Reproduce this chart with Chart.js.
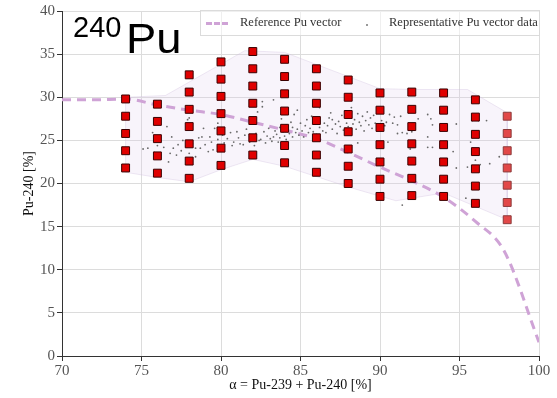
<!DOCTYPE html>
<html>
<head>
<meta charset="utf-8">
<script src="https://cdn.jsdelivr.net/npm/chart.js@4/dist/chart.umd.min.js"></script>
<style>
  html, body { margin: 0; padding: 0; background: #fff; }
  #wrap { position: relative; width: 557px; height: 398px; }
  #iso { position: absolute; left: 0; top: 0; font-family: 'Liberation Sans', Arial, sans-serif; color: #000; }
  #iso .mass { position: absolute; left: 73px; top: 13px; font-size: 29px; line-height: 1; }
  #iso .el { position: absolute; left: 126px; top: 18px; font-size: 42px; line-height: 1; transform: scaleX(1.08); transform-origin: left top; }
  #legend {
    position: absolute; left: 200px; top: 10px; width: 338px; height: 24px;
    border: 1px solid rgba(215, 215, 215, 0.9); background: rgba(255, 255, 255, 0.55);
    font-family: 'Liberation Serif', 'Times New Roman', serif; font-size: 12.5px; color: #333;
    white-space: nowrap;
  }
  #legend .dash { position: absolute; left: 5px; top: 11px; width: 22px; border-top: 3px dashed #cfa3d6; }
  #legend .t1 { position: absolute; left: 39px; top: 4px; }
  #legend .dot { position: absolute; left: 165px; top: 13px; width: 2px; height: 2px; background: #777; border-radius: 1px; }
  #legend .t2 { position: absolute; left: 188px; top: 4px; }
</style>
</head>
<body>
<div id="wrap">
  <canvas id="chart" width="557" height="398"></canvas>
  <div id="iso"><span class="mass">240</span><span class="el">Pu</span></div>
  <div id="legend">
    <span class="dash"></span><span class="t1">Reference Pu vector</span>
    <span class="dot"></span><span class="t2">Representative Pu vector data</span>
  </div>
</div>
<script>
// reference Pu vector curve
const refX = [70, 72, 74, 76, 78, 80, 82, 84, 86, 88, 90, 92, 94, 96, 97.8, 100];
const refY = [29.7, 29.7, 29.8, 29.1, 28.5, 28.0, 27.1, 26.2, 25.2, 23.6, 21.9, 20.3, 18.4, 15.6, 12.2, 1.6];

// selected points (red squares), one column per alpha value
const colX = [74, 76, 78, 80, 82, 84, 86, 88, 90, 92, 94, 96, 98];
const colY = [
  [29.8, 27.8, 25.8, 23.8, 21.8],
  [29.2, 27.2, 25.2, 23.2, 21.2],
  [32.6, 30.6, 28.6, 26.6, 24.6, 22.6, 20.6],
  [34.1, 32.1, 30.1, 28.1, 26.1, 24.1, 22.1],
  [35.3, 33.3, 31.3, 29.3, 27.3, 25.3, 23.3],
  [34.4, 32.4, 30.4, 28.4, 26.4, 24.4, 22.4],
  [33.3, 31.3, 29.3, 27.3, 25.3, 23.3, 21.3],
  [32.0, 30.0, 28.0, 26.0, 24.0, 22.0, 20.0],
  [30.5, 28.5, 26.5, 24.5, 22.5, 20.5, 18.5],
  [30.6, 28.6, 26.6, 24.6, 22.6, 20.6, 18.6],
  [30.5, 28.5, 26.5, 24.5, 22.5, 20.5, 18.5],
  [29.7, 27.7, 25.7, 23.7, 21.7, 19.7, 17.7],
  [27.8, 25.8, 23.8, 21.8, 19.8, 17.8, 15.8],
];

// shaded envelope around the sampled region
const envX = [74, 76.5, 81.5, 84, 90, 92, 95.5, 98, 98, 94, 91, 88, 84, 82, 80, 78, 76, 74, 74];
const envY = [30.0, 30.2, 35.4, 35.2, 31.0, 30.9, 30.9, 28.2, 15.8, 18.9, 18.0, 19.6, 22.0, 22.8, 21.6, 20.2, 20.7, 21.3, 30.0];

// representative Pu vector data (small dots)
const repData = [
  [75.1, 24.0], [75.4, 24.1], [75.7, 25.9], [75.8, 23.6], [76.0, 24.4], [76.2, 23.3], [76.4, 24.2], [76.6, 26.6],
  [76.7, 22.5], [76.8, 23.5], [76.9, 25.4], [77.0, 24.1], [77.2, 23.3], [77.3, 24.5], [77.5, 23.8], [77.6, 25.0],
  [77.8, 24.3], [77.9, 27.4], [78.0, 23.5], [78.0, 27.6], [78.2, 24.6], [78.4, 24.1], [78.4, 23.1], [78.6, 25.3],
  [78.7, 24.1], [78.8, 25.4], [78.9, 26.4], [79.0, 24.5], [79.2, 23.7], [79.3, 25.4], [79.4, 24.8], [79.5, 23.9],
  [79.6, 26.4], [79.8, 25.1], [79.8, 27.0], [79.9, 24.3], [80.1, 25.6], [80.2, 24.7], [80.4, 25.2], [80.6, 25.9],
  [80.7, 24.4], [80.8, 24.8], [81.0, 26.0], [81.1, 25.3],
  [81.2, 24.6], [81.4, 24.5], [81.5, 25.6], [81.6, 26.3], [81.8, 24.8], [81.9, 25.2], [82.0, 27.2], [82.1, 24.4],
  [82.2, 25.8], [82.3, 28.3], [82.4, 25.0], [82.5, 25.1], [82.6, 28.9], [82.6, 29.5], [82.7, 26.0], [82.8, 24.7],
  [82.9, 25.5], [83.0, 26.4], [83.1, 25.2], [83.2, 24.9], [83.3, 29.7], [83.3, 25.4], [83.4, 26.1], [83.5, 25.7],
  [83.6, 24.8], [83.7, 26.5], [83.7, 25.3], [83.8, 27.5], [83.9, 26.0], [84.0, 25.5], [84.1, 26.8], [84.1, 25.1],
  [84.2, 26.2], [84.3, 25.8], [84.4, 27.1], [84.5, 25.4], [84.5, 26.5], [84.6, 28.0], [84.7, 25.9], [84.8, 28.5],
  [84.8, 26.3], [84.9, 25.6], [85.0, 27.0], [85.1, 26.1], [85.2, 25.4], [85.3, 26.7], [85.4, 27.4], [85.5, 25.9],
  [85.6, 26.4], [85.7, 27.8], [85.8, 26.0], [85.9, 26.9], [86.0, 25.7], [86.1, 27.3], [86.2, 28.8], [86.2, 26.5],
  [86.4, 26.1], [86.5, 27.0], [86.6, 25.9], [86.7, 26.7], [86.8, 27.6], [86.9, 28.2], [87.0, 27.4], [87.0, 26.3],
  [87.2, 26.9], [87.3, 25.8], [87.4, 27.2], [87.5, 26.6],
  [87.6, 27.9], [87.7, 26.2], [87.8, 28.4], [87.9, 27.0], [88.0, 26.6], [88.1, 27.7], [88.2, 28.8], [88.3, 26.9],
  [88.4, 27.4], [88.5, 26.3], [88.6, 28.1], [88.6, 24.7], [88.7, 27.1], [88.8, 26.7], [88.9, 27.8], [89.0, 26.1],
  [89.1, 27.3], [89.2, 28.3], [89.3, 26.8], [89.4, 27.6], [89.5, 26.4], [89.6, 27.9], [89.7, 27.0], [89.8, 26.6],
  [89.9, 28.5],
  [90.1, 27.3], [90.3, 26.7], [90.4, 27.1], [90.5, 24.8], [90.6, 28.0], [90.8, 27.0], [90.9, 27.7], [91.1, 26.8],
  [91.1, 25.8], [91.3, 27.8], [91.4, 25.9], [91.4, 17.5], [91.7, 25.8], [91.9, 24.0], [92.0, 26.0], [92.4, 27.5],
  [93.0, 28.0], [93.0, 25.4], [93.0, 24.2], [93.2, 27.5], [93.3, 26.8], [93.3, 24.2],
  [94.6, 23.7], [94.8, 26.9], [94.8, 21.8], [95.4, 18.3], [95.5, 21.9], [95.7, 24.8], [95.8, 23.7], [95.8, 27.3],
  [96.0, 22.7], [96.2, 27.3], [96.3, 22.2], [96.7, 27.3], [96.9, 22.3], [97.5, 23.1],
];

// x/y tick values
const xTicks = [70, 75, 80, 85, 90, 95, 100];
const yTicks = [0, 5, 10, 15, 20, 25, 30, 35, 40];

const squares = [];
colX.forEach((x, i) => colY[i].forEach(y => squares.push({ x: x, y: y })));

const tickFont = { family: "'Liberation Serif', 'Times New Roman', serif", size: 15 };
const titleFont = { family: "'Liberation Serif', 'Times New Roman', serif", size: 14 };

new Chart(document.getElementById('chart'), {
  type: 'scatter',
  data: {
    datasets: [
      {
        label: 'Selected',
        data: squares,
        pointStyle: 'rect',
        pointRadius: 5.6,
        pointBackgroundColor: ctx => (ctx.raw && ctx.raw.x === 98 ? '#e24848' : '#e00000'),
        pointBorderColor: ctx => (ctx.raw && ctx.raw.x === 98 ? '#8a3a3a' : '#3a0000'),
        pointBorderWidth: 1,
        order: 0,
      },
      {
        label: 'Representative Pu vector data',
        data: repData.map(p => ({ x: p[0], y: p[1] })),
        pointRadius: 0.9,
        pointBackgroundColor: '#6a6a6a',
        pointBorderWidth: 0,
        order: 1,
      },
      {
        label: 'Reference Pu vector',
        data: refX.map((x, i) => ({ x: x, y: refY[i] })),
        showLine: true,
        borderColor: '#cfa3d6',
        borderWidth: 3,
        borderDash: [9, 6],
        pointRadius: 0,
        cubicInterpolationMode: 'monotone',
        order: 2,
      },
      {
        label: 'Envelope',
        data: envX.map((x, i) => ({ x: x, y: envY[i] })),
        showLine: true,
        fill: 'shape',
        backgroundColor: 'rgba(225, 205, 235, 0.22)',
        borderColor: 'rgba(205, 190, 220, 0.35)',
        borderWidth: 1,
        pointRadius: 0,
        tension: 0,
        order: 3,
      },
    ],
  },
  options: {
    responsive: false,
    animation: false,
    layout: { padding: { top: 11, right: 18, left: 0, bottom: 0 } },
    plugins: {
      legend: { display: false },
      tooltip: { enabled: false },
    },
    scales: {
      x: {
        type: 'linear',
        min: 70,
        max: 100,
        afterBuildTicks: scale => { scale.ticks = xTicks.map(v => ({ value: v })); },
        afterFit: scale => { scale.height = 42; },
        ticks: { font: tickFont, color: '#555', padding: 1, maxRotation: 0 },
        grid: { color: '#dcdcdc', tickColor: '#333', tickLength: 5 },
        border: { color: '#333', width: 1 },
        title: { display: true, text: 'α = Pu-239 + Pu-240 [%]', font: titleFont, color: '#111', padding: { top: 0, bottom: 4 } },
      },
      y: {
        type: 'linear',
        min: 0,
        max: 40,
        afterBuildTicks: scale => { scale.ticks = yTicks.map(v => ({ value: v })); },
        afterFit: scale => { scale.width = 62; },
        ticks: { font: tickFont, color: '#555', padding: 2 },
        grid: { color: '#dcdcdc', tickColor: '#333', tickLength: 5 },
        border: { color: '#333', width: 1 },
        title: { display: true, text: 'Pu-240 [%]', font: titleFont, color: '#111', padding: { top: 21, bottom: 0 } },
      },
    },
  },
});
</script>
</body>
</html>
